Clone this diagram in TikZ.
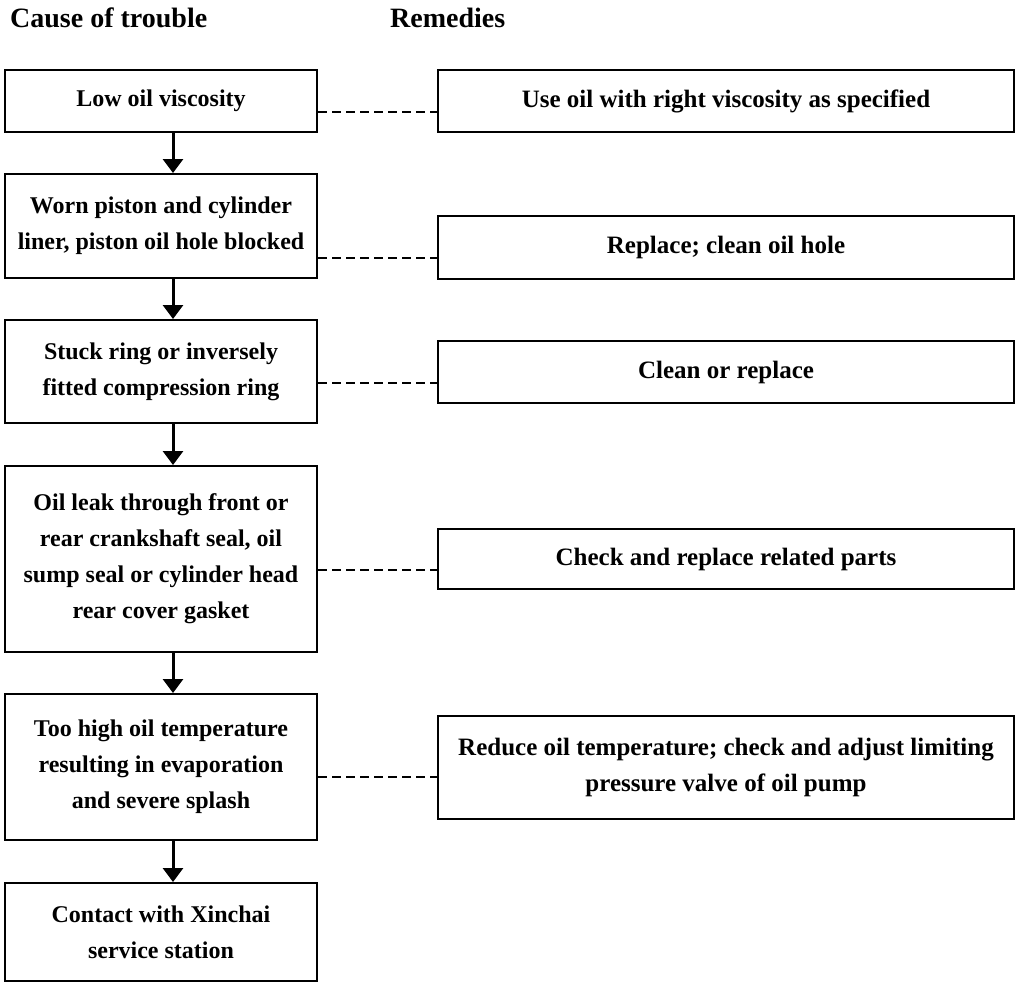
\documentclass[tikz,border=0pt]{standalone}
\usepackage{fontspec}
\setmainfont{Liberation Serif}
\usetikzlibrary{arrows.meta}
\tikzset{
  box/.style={draw, line width=2pt, inner sep=0pt, align=center},
  lbox/.style={box, minimum width=312pt, font=\fontsize{24}{36}\selectfont\bfseries},
  rbox/.style={box, minimum width=576pt, font=\fontsize{25}{36}\selectfont\bfseries},
  flow/.style={line width=3pt, -{Triangle[width=20pt,length=14pt]}},
  link/.style={line width=2.4pt, dash pattern=on 9pt off 5pt},
  head/.style={anchor=base west, inner sep=0pt, font=\fontsize{28}{30}\selectfont\bfseries}
}
\begin{document}
\begin{tikzpicture}[x=1pt,y=-1pt]
\useasboundingbox (0,0) rectangle (1016,982);
\node[head] (h1) at (10,28) {Cause of trouble};
\node[head] (h2) at (390,28) {Remedies};

\node[lbox, minimum height=62pt]  (L1) at (161,101) {Low oil viscosity};
\node[lbox, minimum height=104pt] (L2) at (161,226) {Worn piston and cylinder\\liner, piston oil hole blocked};
\node[lbox, minimum height=103pt] (L3) at (161,371.5) {Stuck ring or inversely\\fitted compression ring};
\node[lbox, minimum height=186pt] (L4) at (161,559) {Oil leak through front or\\rear crankshaft seal, oil\\sump seal or cylinder head\\rear cover gasket};
\node[lbox, minimum height=146pt] (L5) at (161,767) {Too high oil temperature\\resulting in evaporation\\and severe splash};
\node[lbox, minimum height=98pt]  (L6) at (161,932) {Contact with Xinchai\\service station};

\node[rbox, minimum height=62pt]  (R1) at (726,101) {Use oil with right viscosity as specified};
\node[rbox, minimum height=63pt]  (R2) at (726,247.5) {Replace; clean oil hole};
\node[rbox, minimum height=62pt]  (R3) at (726,372) {Clean or replace};
\node[rbox, minimum height=60pt]  (R4) at (726,559) {Check and replace related parts};
\node[rbox, minimum height=103pt] (R5) at (726,767.5) {Reduce oil temperature; check and adjust limiting\\pressure valve of oil pump};

\coordinate (ax) at (173,0);
\foreach \a/\b in {L1/L2,L2/L3,L3/L4,L4/L5,L5/L6}
  \draw[flow] (\a.south -| ax) -- (\b.north -| ax);

\coordinate (d1) at (0,112);
\coordinate (d2) at (0,258);
\coordinate (d3) at (0,383);
\coordinate (d4) at (0,570);
\coordinate (d5) at (0,777);
\foreach \i in {1,...,5}
  \draw[link] (L\i.east |- d\i) -- (R\i.west |- d\i);
\end{tikzpicture}
\end{document}
